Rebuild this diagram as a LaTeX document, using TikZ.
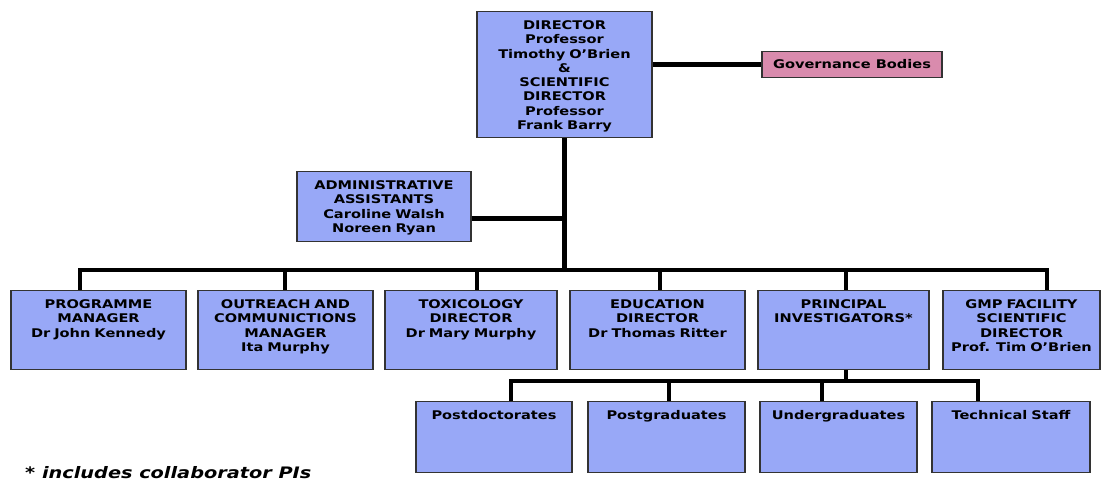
\documentclass[tikz,border=0pt]{standalone}
\usepackage{fontspec}
\usepackage{tikz}
\usetikzlibrary{positioning}
\usepackage{xcolor}

\newfontfamily\boxfont[FakeStretch=1.22]{DejaVu Sans}
\definecolor{boxblue}{RGB}{152,168,247}
\definecolor{govpink}{RGB}{217,139,173}

\begin{document}
\begin{tikzpicture}[
    x=0.03cm, y=-0.03cm,
    box/.style = {rectangle, draw=black!80, fill=boxblue, line width=0.9pt, anchor=north, align=center, font=\boxfont\bfseries\fontsize{10.2}{12.2}\selectfont, inner xsep=0pt, inner ysep=0pt, text width=4.6cm, text height=0.54cm, minimum width=5.25cm},
    govbox/.style = {rectangle, draw=black!80, fill=govpink, line width=0.9pt, font=\boxfont\bfseries\fontsize{10.2}{12.2}\selectfont, inner sep=0pt, minimum width=5.4cm, minimum height=0.77cm},
    note/.style = {anchor=base west, inner sep=0pt, font=\boxfont\bfseries\itshape\fontsize{13.5}{16}\selectfont},
    line/.style = {draw=black, line width=3.6pt}
]
\useasboundingbox (0,0) rectangle (1101,483);

% Top Nodes
\node (director) [box, text depth=3.24cm, at={(564.5,11)}] {DIRECTOR\\Professor\\Timothy O’Brien\\\&\\SCIENTIFIC\\DIRECTOR\\Professor\\Frank Barry};
\node (gov) [govbox, at={(852,64.5)}] {Governance Bodies};
\node (admin) [box, text depth=1.56cm, minimum width=5.22cm, at={(384,171)}] {ADMINISTRATIVE\\ASSISTANTS\\Caroline Walsh\\Noreen Ryan};

% Level 1 Nodes
\node (prog) [box, text depth=1.83cm, at={(98.5,290)}] {PROGRAMME\\MANAGER\\Dr John Kennedy};
\node (outreach) [box, text depth=1.83cm, at={(285.5,290)}] {OUTREACH AND\\COMMUNICTIONS\\MANAGER\\Ita Murphy};
\node (tox) [box, text depth=1.83cm, minimum width=5.16cm, at={(471,290)}] {TOXICOLOGY\\DIRECTOR\\Dr Mary Murphy};
\node (edu) [box, text depth=1.83cm, at={(657.5,290)}] {EDUCATION\\DIRECTOR\\Dr Thomas Ritter};
\node (pi) [box, text depth=1.83cm, minimum width=5.13cm, at={(843.5,290)}] {PRINCIPAL\\INVESTIGATORS*};
\node (gmp) [box, text depth=1.83cm, minimum width=4.71cm, at={(1021.5,290)}] {GMP FACILITY\\SCIENTIFIC\\DIRECTOR\\Prof. Tim O’Brien};

% Level 2 Nodes
\node (postdoc) [box, text depth=1.59cm, minimum width=4.68cm, at={(494,401)}] {Postdoctorates};
\node (postgrad) [box, text depth=1.59cm, minimum width=4.71cm, at={(666.5,401)}] {Postgraduates};
\node (undergrad) [box, text depth=1.59cm, minimum width=4.71cm, at={(838.5,401)}] {Undergraduates};
\node (tech) [box, text depth=1.59cm, minimum width=4.74cm, at={(1011,401)}] {Technical Staff};

% Footnote
\node (footnote) [note, at={(25,478)}] {* includes collaborator PIs};

% Junction points
\coordinate (adm) at (564.5,218.5);
\coordinate (b1) at (80,270);
\coordinate (b2) at (285,270);
\coordinate (b3) at (477,270);
\coordinate (b4) at (660,270);
\coordinate (b5) at (846,270);
\coordinate (b6) at (1047,270);
\coordinate (pidrop) at (846,381);
\coordinate (s1) at (511,381);
\coordinate (s2) at (669,381);
\coordinate (s3) at (822,381);
\coordinate (s4) at (978,381);

% Connections at the top
\draw [line] (director.east |- gov.west) -- (gov.west);
\draw [line] (director.south) -- (director.south |- b1);
\draw [line] (admin.east |- adm) -- (adm);

% Connections to Level 1
\draw [line] (b1 |- prog.north) -- (b1) -- (b6) -- (b6 |- gmp.north);
\draw [line] (b2) -- (b2 |- outreach.north);
\draw [line] (b3) -- (b3 |- tox.north);
\draw [line] (b4) -- (b4 |- edu.north);
\draw [line] (b5) -- (b5 |- pi.north);

% Connections to Level 2
\draw [line] (pidrop |- pi.south) -- (pidrop);
\draw [line] (s1 |- postdoc.north) -- (s1) -- (s4) -- (s4 |- tech.north);
\draw [line] (s2) -- (s2 |- postgrad.north);
\draw [line] (s3) -- (s3 |- undergrad.north);

\end{tikzpicture}
\end{document}
